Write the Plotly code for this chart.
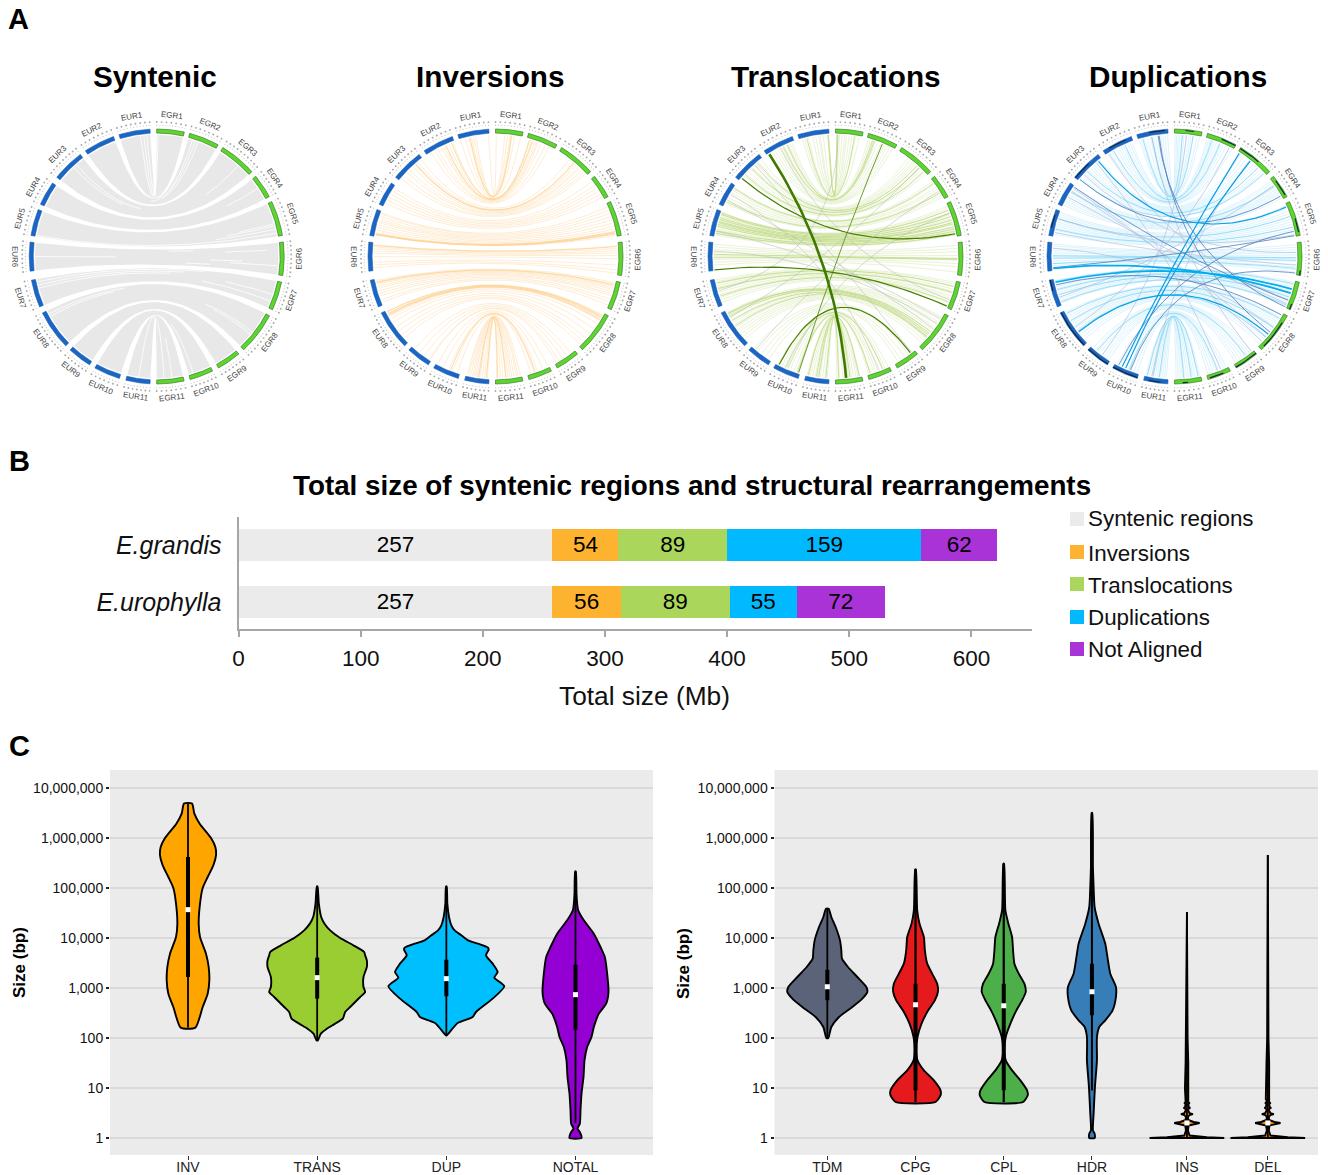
import math
import plotly.graph_objects as go

W, H = 1328, 1175
FONT = "Liberation Sans"

# ---------- A: chord panels ----------
PANEL_TITLES = ["Syntenic", "Inversions", "Translocations", "Duplications"]
EGR_NAMES = [f"EGR{i}" for i in range(1, 12)]
EUR_NAMES = [f"EUR{i}" for i in range(1, 12)]
# sector extents, degrees clockwise from the top
EGR_START = [0, 15, 31.3, 51, 64.5, 83.5, 101.6, 117.7, 139.9, 154, 167.6]
EGR_END = [12.5, 28.8, 48.3, 62, 80.5, 98.6, 114.7, 137, 151, 164.8, 180]
EUR_START = [-3, -19.8, -36.8, -54.8, -68.4, -83.5, -100.7, -116.3, -137.2, -151, -166]
EUR_END = [-17.2, -34, -51.6, -65.8, -80.5, -96.6, -113.3, -134.5, -148.2, -163, -177]

# white seams inside the syntenic ribbons: eur chr, eur pos, egr chr, egr pos, from, to
SYN_SEAMS = [
    (1, .33, 1, .05, 0, 1), (1, .22, 1, .1, 0, .6), (1, .12, 1, .2, 0, .5), (2, .75, 2, .25, .5, 1),
    (2, .6, 2, .35, .6, 1), (2, .4, 2, .15, .7, 1), (3, .3, 3, .55, 0, .4), (3, .42, 3, .5, 0, .3),
    (3, .6, 3, .62, .8, 1), (5, .97, 5, .9, 0, 1), (5, .88, 5, .78, .75, 1), (5, .82, 5, .68, .8, 1),
    (5, .76, 5, .62, .85, 1), (6, .5, 6, .5, 0, .33), (6, .12, 6, .1, .55, .65), (6, .22, 6, .22, .78, .95),
    (6, .62, 6, .62, .72, .85), (6, .72, 6, .72, .8, 1), (6, .85, 6, .85, .62, .72), (7, .1, 7, .05, 0, .7),
    (7, .22, 7, .2, 0, .62), (7, .34, 7, .36, 0, .56), (7, .3, 7, .75, .7, 1), (7, .05, 7, .5, .8, 1),
    (8, .1, 8, .1, 0, .35), (8, .17, 8, .2, 0, .3), (8, .62, 8, .62, .8, 1), (8, .7, 8, .55, .75, 1),
    (11, .5, 11, .72, 0, 1), (11, .4, 11, .42, .8, 1), (10, .75, 10, .8, .7, 1), (4, .4, 4, .45, .85, 1),
]

# same-chromosome links: chr -> (positions on EUR, positions on EGR)
INV_LIGHT = {
    1: ([.03, .45, .52, .6, .68, .8, .97], [.03, .35, .45, .55, .62, .72, .95]),
    2: ([.05, .2, .32, .38, .45, .6, .7, .85], [.08, .16, .28, .35, .4, .5, .65, .8]),
    3: ([.05, .18, .25, .3, .4, .55, .65, .8, .92], [.35, .5, .55, .6, .68, .72, .8, .88, .95]),
    4: ([.1, .25, .4, .55, .7, .85], [.1, .3, .45, .6, .75, .9]),
    5: ([.05, .1, .2, .3, .38, .45, .55, .65, .75, .85, .92], [.1, .2, .3, .4, .5, .6, .7, .78, .85, .9, .97]),
    6: ([.08, .15, .22, .3, .38, .5, .7, .8, .9], [.1, .18, .25, .32, .4, .5, .7, .85, .95]),
    7: ([.05, .1, .15, .2, .28, .35, .45, .55, .65, .8, .9], [.06, .12, .2, .26, .32, .4, .48, .55, .68, .78, .9]),
    8: ([.03, .08, .12, .18, .25, .35, .5, .62, .75, .85], [.05, .1, .15, .2, .3, .45, .6, .75, .85, .95]),
    9: ([.15, .4, .65, .9, .95], [.2, .4, .6, .8, .92]),
    10: ([.05, .3, .55, .7, .9], [.05, .3, .55, .7, .85]),
    11: ([.05, .12, .2, .28, .35, .42, .5, .6, .7, .8, .92], [.05, .14, .2, .3, .38, .45, .52, .62, .72, .82, .95]),
}
INV_MID = {
    1: ([.65], [.6]), 2: ([.1, .3], [.1, .2]), 3: ([.28], [.5]),
    5: ([.9, .92, .94], [.86, .9, .92]), 6: ([.1], [.12]), 7: ([.12], [.15]),
    8: ([.04, .1, .14], [.08, .12, .18]), 10: ([.62], [.65]), 11: ([.55, .88], [.6, .92]),
}

TRANS_LIGHT = {
    1: ([.05, .2, .3, .35, .45, .55, .7, .82, .9], [.08, .15, .25, .35, .42, .52, .62, .75, .9]),
    2: ([.08, .15, .22, .28, .36, .44, .52, .6, .7, .8, .9], [.05, .12, .18, .24, .3, .38, .5, .62, .72, .82, .92]),
    3: ([.05, .15, .25, .33, .42, .5, .6, .7, .8, .9], [.3, .38, .45, .5, .55, .62, .7, .78, .85, .95]),
    4: ([.08, .2, .32, .45, .58, .7, .85], [.1, .25, .4, .5, .65, .8, .9]),
    5: ([.03, .1, .15, .2, .28, .35, .42, .48, .55, .62, .7, .75, .8, .85, .9, .95],
        [.08, .14, .2, .28, .34, .4, .46, .52, .58, .64, .7, .76, .82, .88, .92, .96]),
    6: ([.05, .15, .25, .35, .45, .55, .6, .7, .8], [.08, .18, .28, .4, .48, .55, .65, .75, .92]),
    7: ([.03, .1, .18, .25, .32, .4, .5, .6, .7, .8, .9], [.05, .12, .2, .3, .38, .45, .55, .62, .7, .82, .92]),
    8: ([.05, .12, .2, .28, .35, .42, .5, .58, .65, .72, .8, .88], [.1, .18, .25, .32, .4, .48, .55, .62, .68, .75, .82, .9]),
    9: ([.1, .3, .5, .7, .9], [.15, .3, .5, .7, .85]),
    10: ([.08, .25, .35, .45, .6, .75, .85, .95], [.05, .2, .32, .45, .6, .7, .85, .95]),
    11: ([.05, .12, .2, .3, .4, .5, .6, .72, .82, .92], [.08, .15, .22, .32, .4, .5, .62, .72, .85, .95]),
}
TRANS_MID = {
    1: ([.02, .04, .75], [.05, .08, .72]), 2: ([.25, .4], [.2, .26]),
    3: ([.2, .46, .75], [.62, .72, .88]), 4: ([.12, .78], [.2, .7]),
    5: ([.06, .12, .25, .32, .4, .45, .52, .6, .78, .88], [.2, .3, .4, .5, .58, .62, .72, .78, .85, .94]),
    6: ([.42, .52], [.5, .52]), 7: ([.15, .36, .65], [.2, .42, .78]),
    8: ([.08, .1, .16, .3, .46], [.55, .6, .65, .7, .72]), 10: ([.4, .9], [.3, .88]),
    11: ([.1, .45, .55, .86], [.1, .45, .55, .88]),
}
# links between different chromosomes: eur chr, eur pos, egr chr, egr pos
TRANS_GRAY = [(7, .45, 1, .1), (4, .7, 8, .45), (3, .3, 9, .15), (5, .8, 8, .15), (9, .2, 4, .6),
              (6, .3, 8, .3), (2, .5, 7, .7), (10, .5, 5, .3), (4, .4, 10, .5), (8, .2, 3, .7)]
TRANS_DARK = [(3, .9, 5, .92), (6, .98, 7, .95), (10, .12, 9, .2)]
TRANS_MIDDARK = [(10, .95, 2, .55)]
TRANS_THICK = [(2, .92, 11, .6)]

DUP_LIGHT = {
    1: ([.02, .1, .18, .25, .35, .42, .5, .6, .7, .8, .9, .97], [.02, .08, .14, .2, .28, .36, .45, .55, .62, .72, .85, .95]),
    2: ([.05, .12, .2, .28, .36, .44, .52, .6, .7, .78, .86, .94], [.04, .1, .16, .24, .3, .38, .46, .54, .62, .72, .84, .94]),
    3: ([.06, .14, .22, .3, .38, .46, .54, .62, .7, .8, .9], [.1, .2, .3, .38, .46, .54, .62, .7, .78, .86, .95]),
    4: ([.05, .15, .25, .35, .45, .55, .65, .75, .85, .95], [.08, .18, .3, .4, .5, .58, .66, .74, .84, .94]),
    5: ([.04, .12, .2, .28, .36, .44, .52, .6, .68, .76, .84, .92], [.06, .14, .24, .32, .4, .48, .56, .64, .72, .8, .88, .96]),
    6: ([.05, .12, .2, .28, .36, .44, .5, .58, .66, .74, .82, .9], [.06, .14, .22, .3, .38, .46, .5, .58, .68, .76, .84, .92]),
    7: ([.05, .12, .2, .28, .36, .44, .52, .6, .68, .76, .84, .92], [.04, .14, .22, .3, .38, .46, .54, .62, .7, .78, .86, .94]),
    8: ([.04, .1, .16, .22, .28, .34, .4, .46, .52, .58, .66, .74, .82, .9], [.06, .12, .18, .24, .3, .36, .42, .48, .56, .62, .7, .78, .86, .94]),
    9: ([.1, .22, .34, .46, .58, .7, .82, .94], [.08, .2, .32, .44, .56, .68, .8, .92]),
    10: ([.08, .2, .32, .44, .56, .68, .8, .92], [.1, .22, .34, .46, .58, .7, .82, .94]),
    11: ([.04, .12, .2, .28, .36, .44, .52, .6, .68, .76, .84, .92], [.04, .12, .22, .3, .38, .46, .54, .62, .7, .78, .86, .94]),
}
DUP_MID = {
    1: ([.55, .85], [.3, .7]), 2: ([.3, .72], [.2, .5]), 3: ([.95, .6], [.92, .7]),
    4: ([.3], [.35]), 5: ([.3, .72], [.4, .72]), 6: ([.47, .55, .75], [.47, .55, .8]),
    7: ([.08, .4, .6, .88], [.1, .45, .6, .9]), 8: ([.08, .3, .62], [.15, .42, .72]),
    9: ([.3], [.4]), 10: ([.6], [.5]), 11: ([.1, .35, .62], [.1, .36, .65]),
}
DUP_GRAY = [(4, .1, 8, .85), (4, .25, 8, .7), (4, .55, 7, .85), (5, .3, 5, .95), (5, .85, 6, .7), (3, .75, 6, .3),
            (6, .2, 8, .4), (1, .55, 9, .1), (9, .6, 1, .45), (8, .5, 2, .85), (7, .7, 4, .3), (2, .9, 7, .7),
            (11, .3, 3, .4), (3, .2, 10, .35)]
DUP_DARK = [(1, .3, 8, .55), (1, .33, 7, .98), (10, .15, 5, .85), (10, .65, 6, .95), (4, .05, 7, .72), (7, .22, 8, .05),
            (3, .95, 4, .85), (6, .9, 5, .98)]
DUP_STRONG = [(10, .3, 3, .05), (10, .45, 3, .42), (3, .12, 5, .1), (8, .65, 8, .62)]
DUP_THICK = [(6, .92, 7, .45), (7, .12, 7, .3)]
# darkened stretches of the duplication ring: side, chr, from, to
DUP_RING_DARK = [("EUR", 8, 0, 1), ("EUR", 9, 0, 1), ("EUR", 10, 0, 1), ("EUR", 1, .1, .6), ("EUR", 2, .2, .8),
                 ("EUR", 3, .4, 1), ("EUR", 7, 0, .4), ("EUR", 5, .2, .7), ("EUR", 11, .2, .7), ("EGR", 1, .4, .7),
                 ("EGR", 2, .5, 1), ("EGR", 3, 0, .6), ("EGR", 4, .2, .9), ("EGR", 5, .5, .9), ("EGR", 8, .2, .9),
                 ("EGR", 9, 0, 1), ("EGR", 10, .3, .9), ("EGR", 7, .8, 1), ("EGR", 6, .85, 1), ("EGR", 11, .5, .7)]

# ---------- B: bars ----------
SPECIES = ["E.grandis", "E.urophylla"]
BAR_SERIES = ["Syntenic regions", "Inversions", "Translocations", "Duplications", "Not Aligned"]
BAR_COLORS = ["#ebebeb", "#fdb32f", "#a9d65b", "#00b9ff", "#a933d6"]
GRANDIS_MB = [257, 54, 89, 159, 62]
UROPHYLLA_MB = [257, 56, 89, 55, 72]

# ---------- C: violins (log10 size, density width) ----------
LEFT_CATS = ["INV", "TRANS", "DUP", "NOTAL"]
RIGHT_CATS = ["TDM", "CPG", "CPL", "HDR", "INS", "DEL"]
SIZE_TICKS = [1, 10, 100, 1000, 10000, 100000, 1000000, 10000000]
SIZE_LABELS = ["1", "10", "100", "1,000", "10,000", "100,000", "1,000,000", "10,000,000"]

INV_LOG = [6.69, 6.487, 6.287, 6, 5.82, 5.653, 5.453, 5.22, 5, 4.687, 4.287, 4.02, 3.687, 3.42, 3.153, 2.887, 2.62, 2.207]
INV_DENS = [12, 19, 35, 69, 82, 84, 76, 59, 44, 36, 32, 36, 54, 62, 64, 59, 44, 22]
TRANS_LOG = [5.033, 4.687, 4.42, 4.287, 4.153, 4, 3.853, 3.72, 3.653, 3.553, 3.42, 3.22, 3.02, 2.92, 2.82, 2.62, 2.52, 2.387, 2.287, 2.187, 2.087, 1.953]
TRANS_DENS = [1, 5, 12, 22, 39, 69, 109, 141, 144, 149, 149, 139, 139, 144, 129, 99, 84, 77, 54, 29, 11, 2]
DUP_LOG = [5.033, 4.687, 4.42, 4.253, 4.153, 4.053, 3.953, 3.887, 3.807, 3.767, 3.653, 3.487, 3.32, 3.207, 3.033, 2.787, 2.52, 2.42, 2.3, 2.053]
DUP_DENS = [1, 3, 8, 15, 25, 45, 65, 95, 125, 127, 119, 139, 154, 144, 174, 139, 89, 79, 34, 1]
NOTAL_LOG = [5.333, 4.887, 4.687, 4.553, 4.353, 4.087, 3.82, 3.62, 3.287, 2.92, 2.687, 2.487, 2.22, 2.02, 1.82, 1.553, 1.22, .887, .553, .287, .187, .12, 0]
NOTAL_DENS = [1, 3, 5, 8, 25, 55, 75, 88, 95, 99, 92, 70, 55, 48, 35, 27, 24, 18, 15, 13, 6, 13, 18]
TDM_LOG = [4.587, 4.42, 4.22, 3.953, 3.753, 3.587, 3.42, 3.22, 3.02, 2.92, 2.787, 2.62, 2.42, 2.22, 2]
TDM_DENS = [4, 12, 25, 38, 42, 44, 62, 90, 117, 120, 105, 75, 35, 12, 3]
CPG_LOG = [5.373, 4.553, 4.287, 4.02, 3.753, 3.487, 3.287, 3.087, 2.92, 2.753, 2.553, 2.287, 2.02, 1.753, 1.553, 1.353, 1.153, .953, .853, .72]
CPG_DENS = [1, 5, 12, 25, 28, 35, 50, 65, 67, 58, 38, 18, 6, 2, 6, 25, 55, 75, 75, 60]
CPL_LOG = [5.487, 4.553, 4.287, 4.02, 3.753, 3.487, 3.287, 3.087, 2.92, 2.753, 2.553, 2.287, 2.02, 1.753, 1.553, 1.353, 1.153, .953, .853, .72]
CPL_DENS = [1, 5, 14, 25, 28, 32, 45, 62, 66, 55, 38, 20, 6, 2, 6, 25, 50, 70, 72, 58]
HDR_LOG = [6.5, 5.42, 5.02, 4.62, 4.287, 3.887, 3.553, 3.287, 3.02, 2.82, 2.553, 2.353, 2.22, 2.02, 1.553, 1.02, .487, .153, .087, 0]
HDR_DENS = [1, 3, 5, 8, 20, 40, 48, 55, 72, 72, 62, 40, 22, 15, 15, 9, 5, 3, 8, 8]
INS_LOG = [4.52, 3, 2, 1.5, 1, .8, .778, .76, .72, .699, .67, .615, .602, .59, .56, .495, .477, .46, .42, .36, .32, .301, .28, .25, .15, .05, .015, 0]
INS_DENS = [0, 1, 2, 4, 6, 5, 6, 4, 4, 7, 4, 6, 10, 6, 3, 8, 18, 8, 3, 4, 20, 38, 20, 5, 3, 8, 60, 112]
DEL_LOG = [5.66, 3, 2, 1.5, 1, .8, .778, .76, .72, .699, .67, .615, .602, .59, .56, .495, .477, .46, .42, .36, .32, .301, .28, .25, .15, .05, .015, 0]
DEL_DENS = [0, 1, 2, 4, 6, 5, 6, 4, 4, 7, 4, 6, 10, 6, 3, 8, 18, 8, 3, 4, 20, 38, 20, 5, 3, 8, 60, 112]

# whisker low, q1, median, q3, whisker high (log10)
INV_STATS = [2.21, 3.22, 4.567, 5.62, 6.69]
TRANS_STATS = [1.95, 2.787, 3.207, 3.607, 5.033]
DUP_STATS = [2.05, 2.833, 3.187, 3.567, 5.033]
NOTAL_STATS = [.3, 2.167, 2.867, 3.467, 5.333]
TDM_STATS = [2, 2.753, 3.027, 3.367, 4.587]
CPG_STATS = [.72, .953, 2.667, 3.087, 5.373]
CPL_STATS = [.72, .953, 2.647, 3.087, 5.487]
HDR_STATS = [.95, 2.453, 2.927, 3.487, 6.5]
INS_STATS = [0, .2, .301, .36, 4.52]
DEL_STATS = [0, .2, .301, .36, 5.66]

# ---------- layout constants ----------
CENTERS = [156.7, 495.5, 835.5, 1174.5]
CY = 256.5
HALF = 153.0
R_PX = 127.5
LIM = HALF / R_PX
LEFT_POS = [1, 2, 3, 4]
RIGHT_POS = [1, 2, 3, 4, 5.077, 5.994]
LEFT_SCALE = 1 / (3 * 129.2)
RIGHT_SCALE = 1 / (3 * 88.2)
LEGEND_SQUARE_Y = [519, 552, 584, 617, 649]
LEGEND_TEXT_Y = [520, 555, 587.5, 619, 651]

fig = go.Figure()


def dom_x(a, b):
    return [a / W, b / W]


def dom_y(top, bottom):
    return [1 - bottom / H, 1 - top / H]


def polar(theta, r):
    t = math.radians(theta)
    return r * math.sin(t), r * math.cos(t)


def pos_angle(side, chrom, f):
    s, e = (EUR_START, EUR_END) if side == "EUR" else (EGR_START, EGR_END)
    return s[chrom - 1] + f * (e[chrom - 1] - s[chrom - 1])


R_LINK = 0.955


def bez(a, b, n=36, t0=0.0, t1=1.0):
    out = []
    for i in range(n + 1):
        t = t0 + (t1 - t0) * i / n
        k1, k2 = (1 - t) ** 2, t ** 2
        out.append((k1 * a[0] + k2 * b[0], k1 * a[1] + k2 * b[1]))
    return out


def link_path(links):
    xs, ys = [], []
    for l in links:
        a = polar(pos_angle("EUR", l[0], l[1]), R_LINK)
        b = polar(pos_angle("EGR", l[2], l[3]), R_LINK)
        t0, t1 = (l[4], l[5]) if len(l) > 4 else (0, 1)
        for p in bez(a, b, t0=t0, t1=t1):
            xs.append(p[0])
            ys.append(p[1])
        xs.append(None)
        ys.append(None)
    return xs, ys


def add_links(links, color, width, opacity, k):
    xs, ys = link_path(links)
    fig.add_trace(go.Scatter(x=xs, y=ys, mode="lines", line=dict(color=color, width=width), opacity=opacity,
                             hoverinfo="skip", showlegend=False, xaxis=f"x{k}", yaxis=f"y{k}"))


def same_chr(d):
    out = []
    for c, (ea, eb) in d.items():
        for f1, f2 in zip(ea, eb):
            out.append((c, f1, c, f2))
    return out


def add_ribbons(k):
    xs, ys = [], []
    for i in range(11):
        a1, a2 = EUR_START[i], EUR_END[i]
        b1, b2 = EGR_START[i], EGR_END[i]
        pts = []
        pts += bez(polar(a1, R_LINK), polar(b1, R_LINK))
        pts += [polar(b1 + (b2 - b1) * j / 20, R_LINK) for j in range(21)]
        pts += bez(polar(b2, R_LINK), polar(a2, R_LINK))
        pts += [polar(a2 + (a1 - a2) * j / 20, R_LINK) for j in range(21)]
        xs += [p[0] for p in pts] + [None]
        ys += [p[1] for p in pts] + [None]
    fig.add_trace(go.Scatter(x=xs, y=ys, mode="lines", fill="toself", fillcolor="#e8e8e8", line=dict(width=0),
                             hoverinfo="skip", showlegend=False, xaxis=f"x{k}", yaxis=f"y{k}"))


def add_ring(k):
    for side, s, e, col, edge in (("EUR", EUR_START, EUR_END, "#1b65c4", "#1b5fb4"), ("EGR", EGR_START, EGR_END, "#5cd62f", "#2f6a20")):
        xs, ys = [], []
        for i in range(11):
            pts = [polar(s[i] + (e[i] - s[i]) * j / 24, 1.0) for j in range(25)]
            pts += [polar(e[i] + (s[i] - e[i]) * j / 24, 0.968) for j in range(25)]
            pts.append(pts[0])
            xs += [p[0] for p in pts] + [None]
            ys += [p[1] for p in pts] + [None]
        fig.add_trace(go.Scatter(x=xs, y=ys, mode="lines", fill="toself", fillcolor=col, line=dict(color=edge, width=0.6),
                                 hoverinfo="skip", showlegend=False, xaxis=f"x{k}", yaxis=f"y{k}"))
    # the tiny tick marks and position labels around each sector
    for r, step, size, col in ((1.03, 1.3, 1.1, "#c0c0c0"), (1.055, 1.8, 1.9, "#a8a8a8")):
        xs, ys = [], []
        for s, e in ((EUR_START, EUR_END), (EGR_START, EGR_END)):
            for i in range(11):
                n = int(abs(e[i] - s[i]) / step)
                for j in range(n + 1):
                    p = polar(s[i] + (e[i] - s[i]) * j / max(n, 1), r)
                    xs.append(p[0])
                    ys.append(p[1])
        fig.add_trace(go.Scatter(x=xs, y=ys, mode="markers", marker=dict(size=size, color=col, line=dict(width=0)),
                                 hoverinfo="skip", showlegend=False, xaxis=f"x{k}", yaxis=f"y{k}"))


# syntenic
add_ribbons(1)
add_links(SYN_SEAMS, "#ffffff", 0.8, 1, 1)
# inversions
add_links(same_chr(INV_LIGHT), "#fde3bd", 0.75, 0.85, 2)
add_links(same_chr(INV_MID), "#fdd08c", 0.9, 0.85, 2)
# translocations
add_links(same_chr(TRANS_LIGHT), "#dcebbd", 0.85, 0.7, 3)
add_links(same_chr(TRANS_MID), "#bcd87a", 1.0, 0.75, 3)
add_links(TRANS_GRAY, "#b4c2a6", 0.6, 0.9, 3)
add_links(TRANS_MIDDARK, "#6f9c2a", 1.0, 1, 3)
add_links(TRANS_DARK, "#467f00", 1.2, 1, 3)
add_links(TRANS_THICK, "#3f7a00", 2.6, 1, 3)
# duplications
add_links(same_chr(DUP_LIGHT), "#cdeefc", 0.85, 0.8, 4)
add_links(same_chr(DUP_MID), "#7fd6f7", 1.0, 0.75, 4)
add_links(DUP_GRAY, "#a5b4d6", 0.8, 0.7, 4)
add_links(DUP_DARK, "#3d6fb5", 0.85, 0.85, 4)
add_links(DUP_STRONG, "#0a9fe6", 1.2, 1, 4)
add_links(DUP_THICK, "#00aeef", 1.7, 1, 4)

annotations = []
for k in range(1, 5):
    add_ring(k)
    for names, s, e in ((EUR_NAMES, EUR_START, EUR_END), (EGR_NAMES, EGR_START, EGR_END)):
        for i, nm in enumerate(names):
            mid = (s[i] + e[i]) / 2
            x, y = polar(mid, 142 / R_PX)
            ang = mid if abs(mid) < 90 else (mid - 180 if mid > 0 else mid + 180)
            annotations.append(dict(text=nm, x=x, y=y, xref=f"x{k}", yref=f"y{k}", showarrow=False, textangle=ang,
                                    font=dict(size=8, color="#444444", family=FONT), xanchor="center", yanchor="middle"))
# dark stretches of the duplication ring
xs, ys = [], []
for side, c, f0, f1 in DUP_RING_DARK:
    for j in range(9):
        p = polar(pos_angle(side, c, f0 + (f1 - f0) * j / 8), 0.992)
        xs.append(p[0])
        ys.append(p[1])
    xs.append(None)
    ys.append(None)
fig.add_trace(go.Scatter(x=xs, y=ys, mode="lines", line=dict(color="#122b3a", width=1.2), hoverinfo="skip",
                         showlegend=False, xaxis="x4", yaxis="y4"))

layout = dict(width=W, height=H, margin=dict(l=0, r=0, t=0, b=0, autoexpand=False), autosize=False, paper_bgcolor="white",
              plot_bgcolor="rgba(0,0,0,0)", font=dict(family=FONT, color="#000000"), showlegend=False, barmode="stack")
for k, cx in enumerate(CENTERS, 1):
    common = dict(range=[-LIM, LIM], visible=False, fixedrange=True)
    layout[f"xaxis{k}"] = dict(domain=dom_x(cx - HALF, cx + HALF), anchor=f"y{k}", **common)
    layout[f"yaxis{k}"] = dict(domain=dom_y(CY - HALF, CY + HALF), anchor=f"x{k}", **common)

# ---------- B ----------
ROWS = [1, 0]
for j, name in enumerate(BAR_SERIES):
    vals = [GRANDIS_MB[j], UROPHYLLA_MB[j]]
    fig.add_trace(go.Bar(y=ROWS, x=vals, orientation="h", width=0.57, marker=dict(color=BAR_COLORS[j], line=dict(width=0)),
                         name=name, text=[str(v) for v in vals], textposition="inside", insidetextanchor="middle",
                         textangle=0, insidetextfont=dict(size=22.5, color="#000000", family=FONT), cliponaxis=False,
                         hoverinfo="skip", xaxis="x5", yaxis="y5"))
layout["xaxis5"] = dict(domain=dom_x(238.5, 1032), anchor="y5", range=[0, 649.6], tickvals=[0, 100, 200, 300, 400, 500, 600],
                        showgrid=False, zeroline=False, showline=True, linecolor="#aaa5a5", linewidth=2, ticks="outside",
                        ticklen=6, tickwidth=1.5, tickcolor="#aaa5a5", tickfont=dict(size=22.5, color="#111111"),
                        ticklabelstandoff=2)
layout["yaxis5"] = dict(domain=dom_y(517, 629), anchor="x5", range=[-0.478, 1.487], tickvals=ROWS,
                        ticktext=[f"<i>{s}</i>" for s in SPECIES], showgrid=False, zeroline=False, showline=True,
                        linecolor="#aaa5a5", linewidth=2, ticks="outside", ticklen=10, tickcolor="rgba(0,0,0,0)",
                        tickfont=dict(size=25, color="#111111"))

# legend of panel B
fig.add_trace(go.Scatter(x=[1077] * 5, y=LEGEND_SQUARE_Y, mode="markers",
                         marker=dict(symbol="square", size=14, color=BAR_COLORS, line=dict(width=0)),
                         hoverinfo="skip", showlegend=False, cliponaxis=False, xaxis="x8", yaxis="y8"))
fig.add_trace(go.Scatter(x=[1088] * 5, y=LEGEND_TEXT_Y, mode="text", text=BAR_SERIES, textposition="middle right",
                         textfont=dict(size=22.4, color="#111111", family=FONT),
                         hoverinfo="skip", showlegend=False, cliponaxis=False, xaxis="x8", yaxis="y8"))
layout["xaxis8"] = dict(domain=dom_x(1060, 1328), range=[1060, 1328], visible=False, anchor="y8", fixedrange=True)
layout["yaxis8"] = dict(domain=dom_y(500, 670), range=[670, 500], visible=False, anchor="x8", fixedrange=True)


# ---------- C ----------
def add_violin(pos, logs, dens, stats, color, scale, k, smooth=True, whisk=1.8):
    left = [pos - d * scale for d in dens]
    right = [pos + d * scale for d in dens]
    ys = [10 ** v for v in logs]
    line = dict(color="#000000", width=1.9)
    if smooth:
        line.update(shape="spline", smoothing=0.6)
    fig.add_trace(go.Scatter(x=left + right[::-1] + [left[0]], y=ys + ys[::-1] + [ys[0]], mode="lines", fill="toself",
                             fillcolor=color, line=line, hoverinfo="skip", showlegend=False, xaxis=f"x{k}", yaxis=f"y{k}"))
    lo, q1, med, q3, hi = stats
    fig.add_trace(go.Scatter(x=[pos, pos], y=[10 ** lo, 10 ** hi], mode="lines", line=dict(color="#000000", width=whisk),
                             hoverinfo="skip", showlegend=False, xaxis=f"x{k}", yaxis=f"y{k}"))
    fig.add_trace(go.Scatter(x=[pos, pos], y=[10 ** q1, 10 ** q3], mode="lines", line=dict(color="#000000", width=4),
                             hoverinfo="skip", showlegend=False, xaxis=f"x{k}", yaxis=f"y{k}"))
    fig.add_trace(go.Scatter(x=[pos], y=[10 ** med], mode="markers", marker=dict(symbol="square", size=5, color="white", line=dict(width=0)),
                             hoverinfo="skip", showlegend=False, xaxis=f"x{k}", yaxis=f"y{k}"))


add_violin(LEFT_POS[0], INV_LOG, INV_DENS, INV_STATS, "#ffa500", LEFT_SCALE, 6)
add_violin(LEFT_POS[1], TRANS_LOG, TRANS_DENS, TRANS_STATS, "#9acd32", LEFT_SCALE, 6)
add_violin(LEFT_POS[2], DUP_LOG, DUP_DENS, DUP_STATS, "#00bfff", LEFT_SCALE, 6)
add_violin(LEFT_POS[3], NOTAL_LOG, NOTAL_DENS, NOTAL_STATS, "#9400d3", LEFT_SCALE, 6)
add_violin(RIGHT_POS[0], TDM_LOG, TDM_DENS, TDM_STATS, "#5a6378", RIGHT_SCALE, 7)
add_violin(RIGHT_POS[1], CPG_LOG, CPG_DENS, CPG_STATS, "#e41a1c", RIGHT_SCALE, 7, whisk=2.2)
add_violin(RIGHT_POS[2], CPL_LOG, CPL_DENS, CPL_STATS, "#4daf4a", RIGHT_SCALE, 7, whisk=2.2)
add_violin(RIGHT_POS[3], HDR_LOG, HDR_DENS, HDR_STATS, "#377eb8", RIGHT_SCALE, 7, whisk=2)
add_violin(RIGHT_POS[4], INS_LOG, INS_DENS, INS_STATS, "#ff8c00", RIGHT_SCALE, 7, smooth=False)
add_violin(RIGHT_POS[5], DEL_LOG, DEL_DENS, DEL_STATS, "#ff8c00", RIGHT_SCALE, 7, smooth=False)

x_ax = dict(showgrid=False, zeroline=False, showline=False, ticks="outside", ticklen=4, tickwidth=1.4, tickcolor="#333333",
            tickfont=dict(size=14, color="#222222"), fixedrange=True, ticklabelstandoff=-5)
y_ax = dict(type="log", range=[-0.34, 7.36], tickvals=SIZE_TICKS, ticktext=SIZE_LABELS, showgrid=True, gridcolor="#d9d9d9",
            zeroline=False, showline=False, ticks="outside", ticklen=3, tickwidth=1.6, tickcolor="#222222",
            tickfont=dict(size=14, color="#111111"), fixedrange=True)
layout["xaxis6"] = dict(domain=dom_x(110, 653), anchor="y6", range=[0.396, 4.6], tickvals=LEFT_POS, ticktext=LEFT_CATS, **x_ax)
layout["yaxis6"] = dict(domain=dom_y(770, 1155), anchor="x6", gridwidth=2, **y_ax)
layout["xaxis7"] = dict(domain=dom_x(774.5, 1318), anchor="y7", range=[0.401, 6.563], tickvals=RIGHT_POS, ticktext=RIGHT_CATS, **x_ax)
layout["yaxis7"] = dict(domain=dom_y(770, 1155), anchor="x7", gridwidth=1.5, **y_ax)
layout["shapes"] = [
    dict(type="rect", xref="x6 domain", yref="y6 domain", x0=0, x1=1, y0=0, y1=1, fillcolor="#ebebeb", line=dict(width=0), layer="below"),
    dict(type="rect", xref="x7 domain", yref="y7 domain", x0=0, x1=1, y0=0, y1=1, fillcolor="#ebebeb", line=dict(width=0), layer="below"),
]


def page_text(text, x, y, size, bold=False, angle=0, xanchor="center", color="#000000"):
    annotations.append(dict(text=f"<b>{text}</b>" if bold else text, x=x / W, y=1 - y / H, xref="paper", yref="paper",
                            showarrow=False, xanchor=xanchor, yanchor="middle", textangle=angle,
                            font=dict(size=size, color=color, family=FONT)))


TITLE_X = [155, 490, 836, 1178]
for t, x in zip(PANEL_TITLES, TITLE_X):
    page_text(t, x, 77, 29.7, bold=True)
page_text("A", 18.5, 19, 29, bold=True)
page_text("B", 19, 461, 29, bold=True)
page_text("C", 19.5, 746, 29, bold=True)
page_text("Total size of syntenic regions and structural rearrangements", 692, 486, 27.8, bold=True)
page_text("Total size (Mb)", 644, 696, 26.3, color="#111111")
page_text("Size (bp)", 19, 963, 17, bold=True, angle=-90)
page_text("Size (bp)", 683, 963, 17, bold=True, angle=-90)
layout["annotations"] = annotations

fig.update_layout(**layout)
fig.write_html("out.html", config={"displayModeBar": False, "responsive": False},
               post_script="document.body.style.margin='0';document.documentElement.style.overflow='hidden';")
